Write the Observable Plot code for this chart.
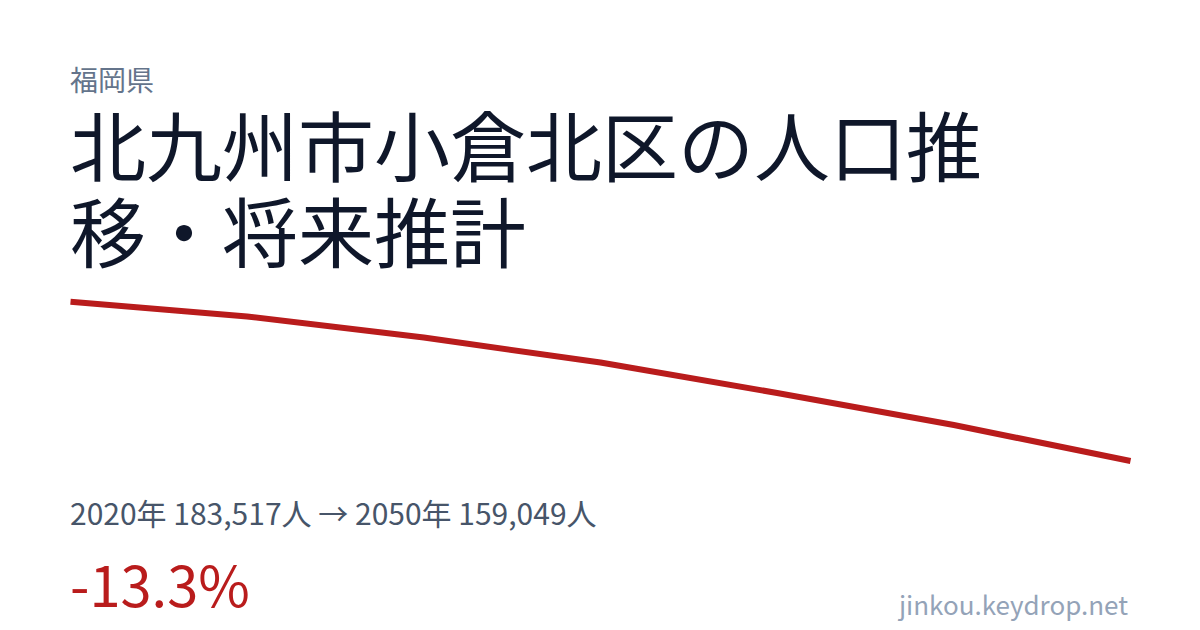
<!DOCTYPE html>
<html lang="ja">
<head>
<meta charset="utf-8">
<script src="https://cdn.jsdelivr.net/npm/d3@7"></script>
<script src="https://cdn.jsdelivr.net/npm/@observablehq/plot@0.6"></script>
<style>
  html, body { margin: 0; padding: 0; background: #ffffff; }
  body { width: 1200px; height: 630px; position: relative; overflow: hidden;
         font-family: "Noto Sans CJK JP", "Noto Sans", sans-serif; }
  .t { position: absolute; line-height: 1; white-space: nowrap; }
  #pref { left: 70px; top: 64.5px; font-size: 28px; color: #64748b; }
  #title { position: absolute; left: 70px; top: 100px; width: 960px; font-size: 76px;
           line-height: 86px; color: #0f172a; }
  #chart { position: absolute; left: 0; top: 280px; }
  #stats { left: 70px; top: 496.6px; font-size: 30px; color: #475569; }
  #pct { left: 70px; top: 555.3px; font-size: 56px; color: #b91c1c; }
  #site { right: 72px; top: 590.7px; font-size: 26px; color: #94a3b8; }
</style>
</head>
<body>
<div id="pref" class="t">福岡県</div>
<div id="title">北九州市小倉北区の人口推移・将来推計</div>
<div id="chart"></div>
<div id="stats" class="t">2020年 183,517人 → 2050年 159,049人</div>
<div id="pct" class="t">-13.3%</div>
<div id="site" class="t">jinkou.keydrop.net</div>
<script>
const years = [2020, 2025, 2030, 2035, 2040, 2045, 2050];
const population = [183517, 181258, 178030, 174187, 169500, 164581, 159049];

const data = years.map((y, i) => ({year: y, pop: population[i]}));

const plot = Plot.plot({
  width: 1200,
  height: 200,
  marginLeft: 70,
  marginRight: 70,
  marginTop: 21.3,
  marginBottom: 19.5,
  x: {domain: [d3.min(years), d3.max(years)], axis: null},
  y: {domain: [d3.min(population), d3.max(population)], axis: null},
  marks: [
    Plot.line(data, {x: "year", y: "pop", stroke: "#b91c1c", strokeWidth: 6,
                     strokeLinecap: "butt", strokeLinejoin: "round"})
  ]
});
document.getElementById("chart").appendChild(plot);
</script>
</body>
</html>
